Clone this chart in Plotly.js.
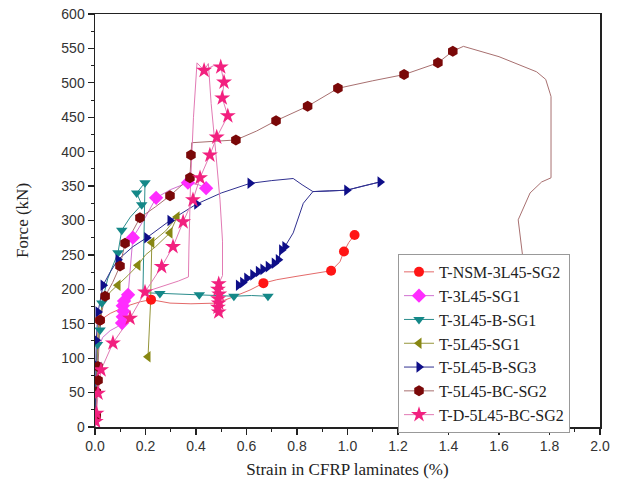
<!DOCTYPE html>
<html>
<head>
<meta charset="utf-8">
<script src="https://cdn.plot.ly/plotly-3.0.1.min.js"></script>
<style>html,body{margin:0;padding:0;background:#fff;}#chart{width:624px;height:499px;}</style>
</head>
<body>
<div id="chart"></div>
<script>
// ---- Series names (legend order) ----
const seriesNames = ["T-NSM-3L45-SG2","T-3L45-SG1","T-3L45-B-SG1","T-5L45-SG1","T-5L45-B-SG3","T-5L45-BC-SG2","T-D-5L45-BC-SG2"];

// ---- T-NSM-3L45-SG2 ----
const nsmLineX = [0,0.002,0.005,0.008,0.012,0.02,0.06,0.12,0.18,0.222,0.26,0.297,0.38,0.483,0.547,0.614,0.667,0.72,0.8,0.87,0.935,0.97,0.986,1.005,1.028];
const nsmLineY = [0,30,70,110,140,155,165,175,182,185,182,180,179,180,189,199,209,214,219,223,227,240,255,268,279];
const nsmMarkX = [0.02,0.222,0.667,0.935,0.986,1.028];
const nsmMarkY = [155,185,209,227,255,279];

// ---- T-3L45-SG1 ----
const s1LineX = [0,0.003,0.006,0.01,0.03,0.06,0.09,0.107,0.11,0.113,0.11,0.115,0.131,0.14,0.15,0.2,0.242,0.3,0.368,0.41,0.44];
const s1LineY = [0,40,80,110,130,140,146,151,160,168,176,183,192,230,275,305,333,345,355,352,347];
const s1MarkX = [0.107,0.11,0.113,0.11,0.115,0.131,0.15,0.242,0.368,0.44];
const s1MarkY = [151,160,168,176,183,192,275,333,355,347];

// ---- T-3L45-B-SG1 ----
const bLineX = [0,0.003,0.006,0.01,0.02,0.027,0.05,0.091,0.106,0.14,0.185,0.165,0.198,0.195,0.19,0.2,0.257,0.33,0.413,0.48,0.55,0.62,0.685];
const bLineY = [0,40,90,120,141,180,215,253,286,305,323,340,355,280,199,195,194,193,192,191,190,191,190];
const bMarkX = [0.006,0.01,0.02,0.027,0.091,0.106,0.185,0.165,0.198,0.257,0.413,0.55,0.685];
const bMarkY = [90,120,141,180,253,286,323,340,355,194,192,190,190];

// ---- T-5L45-SG1 ----
const s5LineX = [0,0.004,0.008,0.015,0.03,0.06,0.091,0.13,0.17,0.2,0.24,0.297,0.325,0.28,0.225,0.22,0.21];
const s5LineY = [0,50,100,150,180,196,206,220,235,250,262,282,305,285,268,180,102];
const s5MarkX = [0.091,0.17,0.225,0.297,0.325,0.21];
const s5MarkY = [206,235,268,282,305,102];

// ---- T-5L45-B-SG3 ----
const b3LineX = [0,0.002,0.003,0.005,0.012,0.032,0.06,0.091,0.15,0.205,0.297,0.35,0.403,0.5,0.614,0.7,0.785,0.82,0.863,0.93,0.997,1.06,1.129,1.06,0.997,0.93,0.863,0.825,0.799,0.785,0.752,0.739,0.726,0.71,0.686,0.665,0.647,0.625,0.601,0.585,0.568,0.561];
const b3LineY = [0,50,90,126,167,206,225,243,262,275,300,312,324,340,354,358,361,352,342,343,344,350,356,350,344,343,342,325,296,282,262,257,243,238,233,229,226,221,216,210,206,204];
const b3MarkX = [0.003,0.005,0.012,0.032,0.091,0.205,0.297,0.403,0.614,0.997,1.129,0.752,0.739,0.726,0.71,0.686,0.665,0.647,0.625,0.601,0.585,0.568];
const b3MarkY = [90,126,167,206,243,275,300,324,354,344,356,262,257,243,238,233,229,226,221,216,210,206];

// ---- T-5L45-BC-SG2 ----
const bcLineX = [0,0.003,0.005,0.008,0.012,0.012,0.02,0.04,0.07,0.099,0.119,0.15,0.178,0.24,0.297,0.376,0.38,0.383,0.47,0.558,0.64,0.717,0.842,0.962,1.1,1.224,1.358,1.417,1.459,1.6,1.749,1.785,1.802,1.806,1.806,1.769,1.723,1.676,1.694,1.70];
const bcLineY = [0,17,35,51,68,88,155,190,210,234,267,285,304,320,336,362,395,413,415,417,430,445,466,492,503,512,529,546,553,538,516,505,485,480,362,356,340,301,247,200];
const bcMarkX = [0.005,0.005,0.012,0.012,0.02,0.04,0.099,0.119,0.178,0.297,0.376,0.38,0.558,0.717,0.842,0.962,1.224,1.358,1.417];
const bcMarkY = [17,51,68,88,155,190,234,267,304,336,362,395,417,445,466,492,512,529,546];

// ---- T-D-5L45-BC-SG2 (null separates the two recorded branches) ----
const dLineX = [0,0.003,0.006,0.012,0.024,0.071,0.139,0.198,0.264,0.309,0.349,0.388,0.416,0.455,0.482,0.526,0.504,0.511,0.498,0.47,0.432,0.449,0.46,0.478,0.495,0.505,0.505,0.49,0.487,0.492,0.488,0.49,0.487,0.49,null,0.432,0.404,0.39,0.378,0.372,0.37,0.33,0.26,0.205];
const dLineY = [0,8,20,49,83,122,158,196,233,262,298,330,362,395,421,452,478,501,523,525,518,528,470,400,330,270,220,208,200,193,186,180,174,167,null,518,529,450,350,260,218,212,204,197];
const dMarkX = [0.003,0.006,0.012,0.024,0.071,0.139,0.198,0.264,0.309,0.349,0.388,0.416,0.455,0.482,0.526,0.504,0.511,0.498,0.432,0.49,0.487,0.492,0.488,0.49,0.487,0.49];
const dMarkY = [8,20,49,83,122,158,196,233,262,298,330,362,395,421,452,478,501,523,518,208,200,193,186,180,174,167];

// ---- Axis ticks ----
const xTickVals = [0,0.2,0.4,0.6,0.8,1.0,1.2,1.4,1.6,1.8,2.0];
const xTickText = ["0.0","0.2","0.4","0.6","0.8","1.0","1.2","1.4","1.6","1.8","2.0"];
const yTickVals = [0,50,100,150,200,250,300,350,400,450,500,550,600];

// ---- Styles ----
const styles = [
  {line:"#e46a6a", marker:"#ff1515", symbol:"circle", size:10},
  {line:"#d070d0", marker:"#ff2cff", symbol:"diamond", size:11},
  {line:"#2a8c8c", marker:"#148888", symbol:"triangle-down", size:10},
  {line:"#95953a", marker:"#878712", symbol:"triangle-left", size:10},
  {line:"#303090", marker:"#0e0e88", symbol:"triangle-right", size:10},
  {line:"#a87070", marker:"#7a0808", symbol:"hexagon", size:11},
  {line:"#e27ab4", marker:"#f2207f", symbol:"star", size:12}
];

const data = [
  [nsmLineX,nsmLineY,nsmMarkX,nsmMarkY],
  [s1LineX,s1LineY,s1MarkX,s1MarkY],
  [bLineX,bLineY,bMarkX,bMarkY],
  [s5LineX,s5LineY,s5MarkX,s5MarkY],
  [b3LineX,b3LineY,b3MarkX,b3MarkY],
  [bcLineX,bcLineY,bcMarkX,bcMarkY],
  [dLineX,dLineY,dMarkX,dMarkY]
];

const traces = [];
data.forEach((d,i)=>{
  const st = styles[i];
  traces.push({x:d[0], y:d[1], mode:"lines", type:"scatter", showlegend:false, hoverinfo:"skip",
    connectgaps:false, line:{color:st.line, width:1}});
});
data.forEach((d,i)=>{
  const st = styles[i];
  traces.push({x:d[2], y:d[3], mode:"markers", type:"scatter", showlegend:false,
    marker:{color:st.marker, symbol:st.symbol, size:st.size, line:{width:0}}});
});
data.forEach((d,i)=>{
  const st = styles[i];
  traces.push({x:[null], y:[null], mode:"lines+markers", type:"scatter", name:seriesNames[i],
    line:{color:st.line, width:1}, marker:{color:st.marker, symbol:st.symbol, size:st.size, line:{width:0}}});
});

const layout = {
  width:624, height:499,
  margin:{l:95, r:24, t:14, b:72},
  paper_bgcolor:"#ffffff", plot_bgcolor:"#ffffff",
  showlegend:true,
  xaxis:{
    range:[0,2.0], tickvals:xTickVals, ticktext:xTickText,
    ticks:"outside", ticklen:6, tickwidth:1.2, tickcolor:"#222",
    minor:{dtick:0.1, ticks:"outside", ticklen:3, tickcolor:"#222", tickwidth:1},
    showline:true, linecolor:"#222", linewidth:1.5, mirror:true, showgrid:false, zeroline:false,
    tickfont:{family:"Liberation Sans, Arial, sans-serif", size:14, color:"#333"},
    title:{text:"Strain in CFRP laminates (%)", font:{family:"Liberation Serif, Times New Roman, serif", size:17, color:"#222"}, standoff:10}
  },
  yaxis:{
    range:[0,600], tickvals:yTickVals,
    ticks:"outside", ticklen:6, tickwidth:1.2, tickcolor:"#222",
    minor:{dtick:25, ticks:"outside", ticklen:3, tickcolor:"#222", tickwidth:1},
    showline:true, linecolor:"#222", linewidth:1.5, mirror:true, showgrid:false, zeroline:false,
    tickfont:{family:"Liberation Sans, Arial, sans-serif", size:14, color:"#333"},
    title:{text:"Force (kN)", font:{family:"Liberation Serif, Times New Roman, serif", size:17, color:"#222"}, standoff:28}
  },
  legend:{
    x:0.6, y:0.419, xanchor:"left", yanchor:"top",
    bgcolor:"#ffffff", bordercolor:"#999", borderwidth:1,
    font:{family:"Liberation Serif, Times New Roman, serif", size:16, color:"#222"},
    tracegroupgap:0, itemwidth:30
  }
};

Plotly.newPlot("chart", traces, layout, {displayModeBar:false, staticPlot:true});
</script>
</body>
</html>
